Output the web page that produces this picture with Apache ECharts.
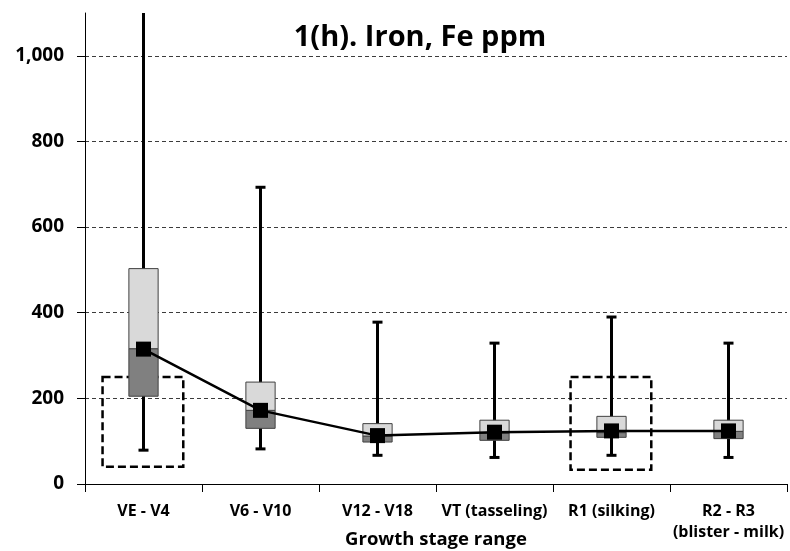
<!DOCTYPE html>
<html><head><meta charset="utf-8">
<script src="https://cdn.jsdelivr.net/npm/echarts@6/dist/echarts.min.js"></script>
<style>html,body{margin:0;padding:0;background:#fff}#c{width:790px;height:551px}</style>
</head><body><div id="c"></div>
<script>
const categories = ['VE - V4','V6 - V10','V12 - V18','VT (tasseling)','R1 (silking)','R2 - R3\n(blister - milk)'];
const whiskerLow  = [79, 82, 67, 62, 67, 62];
const q1          = [205, 130, 98, 102, 109, 106];
const median      = [316, 172, 112, 119, 120, 123];
const q3          = [503, 238, 141, 149, 158, 149];
const whiskerHigh = [1150, 693, 378, 329, 390, 329];
const means       = [315, 172, 113, 121, 124, 124];
const yTickLabels = [0, 200, 400, 600, 800, 1000];
const highlightCats = [0, 4];
const highlightLow  = [40, 33];
const highlightHigh = [250, 250];

const FONT = 'Open Sans';
const chart = echarts.init(document.getElementById('c'), null, {renderer: 'canvas'});

function clampY(y, cs) { return Math.max(cs.y, Math.min(cs.y + cs.height, y)); }

const option = {
  animation: false,
  title: {
    text: '1(h). Iron, Fe ppm', left: 415, top: 18, textAlign: 'center',
    textStyle: {fontFamily: FONT, fontWeight: 'bold', fontSize: 29, color: '#000'}
  },
  grid: {left: 85, right: 3, top: 13, bottom: 67, containLabel: false, outerBoundsMode: 'none'},
  xAxis: {
    type: 'category', data: categories, boundaryGap: true,
    axisLine: {lineStyle: {color: '#000', width: 1}},
    axisTick: {show: true, length: 8, lineStyle: {color: '#000'}},
    axisLabel: {fontFamily: FONT, fontWeight: 'bold', fontSize: 16, color: '#000', margin: 17, lineHeight: 21, interval: 0},
    name: 'Growth stage range', nameLocation: 'middle', nameGap: 46, nameMoveOverlap: false,
    nameTextStyle: {fontFamily: FONT, fontWeight: 'bold', fontSize: 18.5, color: '#000'}
  },
  yAxis: {
    type: 'value', min: 0, max: 1100, interval: 100,
    axisLine: {show: true, lineStyle: {color: '#000', width: 1}},
    axisTick: {show: true, length: 8, customValues: yTickLabels, lineStyle: {color: '#000'}},
    axisLabel: {customValues: yTickLabels, fontFamily: FONT, fontWeight: 'bold', fontSize: 19, color: '#000', margin: 21,
      formatter: v => v.toLocaleString('en-US')},
    splitLine: {show: true, lineStyle: {color: '#3c3c3c', type: [4, 3], width: 1}}
  },
  series: [
    {
      type: 'custom', z: 2, clip: true,
      data: highlightCats.map((c, i) => [c, highlightLow[i], highlightHigh[i]]),
      encode: {x: 0, y: [1, 2]},
      renderItem: (params, api) => {
        const c = api.value(0);
        const bw = api.size([1, 0])[0];
        const pLo = api.coord([c, api.value(1)]);
        const pHi = api.coord([c, api.value(2)]);
        const x0 = pLo[0] - bw * 0.35, x1 = pLo[0] + bw * 0.34;
        return {type: 'rect', shape: {x: x0, y: pHi[1], width: x1 - x0, height: pLo[1] - pHi[1]},
          style: {fill: 'none', stroke: '#000', lineWidth: 2.5, lineDash: [8, 4]}};
      }
    },
    {
      type: 'custom', z: 3,
      data: categories.map((c, i) => [i, whiskerLow[i], whiskerHigh[i]]),
      encode: {x: 0, y: [1, 2]},
      renderItem: (params, api) => {
        const cs = params.coordSys;
        const i = api.value(0);
        const pLo = api.coord([i, api.value(1)]);
        const pHi = api.coord([i, api.value(2)]);
        const yHi = clampY(pHi[1], cs), yLo = clampY(pLo[1], cs);
        const cap = 5;
        const children = [
          {type: 'line', shape: {x1: pLo[0], y1: yLo, x2: pLo[0], y2: yHi}, style: {stroke: '#000', lineWidth: 3}}
        ];
        if (pHi[1] >= cs.y) children.push({type: 'line', shape: {x1: pHi[0] - cap, y1: yHi, x2: pHi[0] + cap, y2: yHi}, style: {stroke: '#000', lineWidth: 3}});
        if (pLo[1] <= cs.y + cs.height) children.push({type: 'line', shape: {x1: pLo[0] - cap, y1: yLo, x2: pLo[0] + cap, y2: yLo}, style: {stroke: '#000', lineWidth: 3}});
        return {type: 'group', children};
      }
    },
    {
      type: 'custom', z: 4,
      data: categories.map((c, i) => [i, q1[i], median[i], q3[i]]),
      encode: {x: 0, y: [1, 2, 3]},
      renderItem: (params, api) => {
        const i = api.value(0);
        const bw = api.size([1, 0])[0] * 0.25;
        const p1 = api.coord([i, api.value(1)]);
        const pm = api.coord([i, api.value(2)]);
        const p3 = api.coord([i, api.value(3)]);
        const x = p1[0] - bw / 2;
        return {type: 'group', children: [
          {type: 'rect', shape: {x: x, y: pm[1], width: bw, height: p1[1] - pm[1]}, style: {fill: '#808080', stroke: '#404040', lineWidth: 1}},
          {type: 'rect', shape: {x: x, y: p3[1], width: bw, height: pm[1] - p3[1]}, style: {fill: '#d9d9d9', stroke: '#404040', lineWidth: 1}}
        ]};
      }
    },
    {
      type: 'line', z: 5, data: means,
      symbol: 'rect', symbolSize: 15,
      lineStyle: {color: '#000', width: 2.5},
      itemStyle: {color: '#000'}
    }
  ]
};
chart.setOption(option);
</script>
</body></html>
